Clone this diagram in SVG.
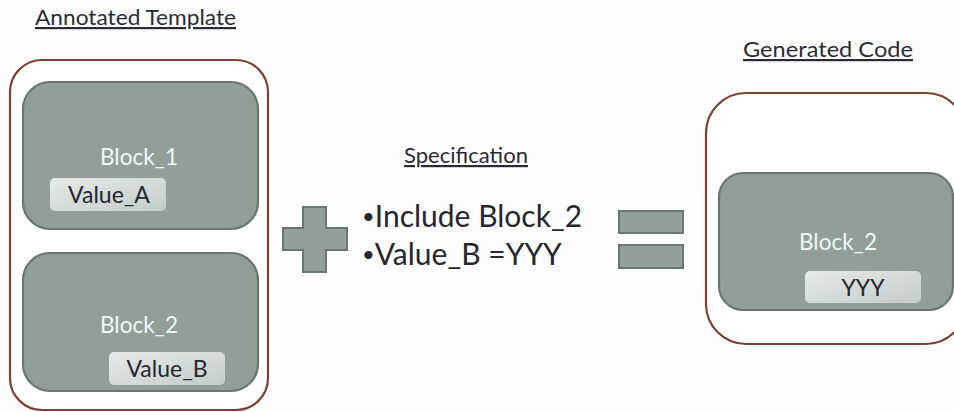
<svg xmlns="http://www.w3.org/2000/svg" width="954" height="412" viewBox="0 0 954 412">
  <defs>
    <linearGradient id="tagFill" x1="0" y1="0" x2="1" y2="1">
      <stop offset="0" stop-color="#e6eae8"/>
      <stop offset="1" stop-color="#c4ccc8"/>
    </linearGradient>
    <style>
      .frame { fill: #ffffff; stroke: #7b4036; stroke-width: 2.2; }
      .block { fill: #919f98; stroke: #6a7871; stroke-width: 2.2; }
      .tag { fill: url(#tagFill); }
      .sym { fill: #919f98; stroke: #6a7871; stroke-width: 2; }
      .head { font-family: Lato, "Open Sans", sans-serif; font-size: 22px; fill: #2b2b36; text-decoration: underline; }
      .btxt { font-family: Lato, "Open Sans", sans-serif; font-size: 22.5px; fill: #f4f6f5; text-anchor: middle; }
      .ttxt { font-family: Lato, "Open Sans", sans-serif; font-size: 23px; fill: #26262f; text-anchor: middle; }
      .spec { font-family: Lato, "Open Sans", sans-serif; font-size: 30px; fill: #26262f; }
      .dot { font-size: 22px; }
    </style>
  </defs>
  <rect width="954" height="412" fill="#fdfdfd"/>

  <!-- Annotated template -->
  <g id="template">
    <text class="head" x="35" y="25" textLength="201" lengthAdjust="spacingAndGlyphs">Annotated Template</text>
    <rect class="frame" x="10" y="60" width="258" height="350" rx="32"/>
  </g>
  <g id="block1">
    <rect class="block" x="23" y="82" width="235" height="147" rx="27"/>
    <text class="btxt" x="139" y="165">Block_1</text>
    <rect class="tag" x="50" y="178" width="116" height="33" rx="5"/>
    <text class="ttxt" x="109" y="203">Value_A</text>
  </g>
  <g id="block2">
    <rect class="block" x="23" y="253" width="235" height="138" rx="27"/>
    <text class="btxt" x="139" y="333">Block_2</text>
    <rect class="tag" x="109" y="352" width="116" height="33" rx="5"/>
    <text class="ttxt" x="167" y="377">Value_B</text>
  </g>

  <!-- plus -->
  <g id="plus">
    <path class="sym" d="M303 207 H326 V228 H347 V250 H326 V272 H303 V250 H283 V228 H303 Z"/>
  </g>

  <!-- specification -->
  <g id="specification">
    <text class="head" x="404" y="163" textLength="124" lengthAdjust="spacingAndGlyphs">Specification</text>
    <text class="spec" x="362" y="227"><tspan class="dot" dy="-3">•</tspan><tspan dy="3">Include Block_2</tspan></text>
    <text class="spec" x="362" y="265"><tspan class="dot" dy="-3">•</tspan><tspan dy="3">Value_B =YYY</tspan></text>
  </g>

  <!-- equals -->
  <g id="equals">
    <rect class="sym" x="619" y="211" width="64" height="22"/>
    <rect class="sym" x="619" y="245" width="64" height="23"/>
  </g>

  <!-- generated code -->
  <g id="generated">
    <text class="head" x="743" y="57" textLength="170" lengthAdjust="spacingAndGlyphs">Generated Code</text>
    <rect class="frame" x="706" y="93" width="260" height="251" rx="40"/>
  </g>
  <g id="block2-out">
    <rect class="block" x="719" y="173" width="234" height="137" rx="24"/>
    <text class="btxt" x="838" y="250">Block_2</text>
    <rect class="tag" x="805" y="271" width="116" height="32" rx="5"/>
    <text class="ttxt" x="863" y="296">YYY</text>
  </g>
</svg>
